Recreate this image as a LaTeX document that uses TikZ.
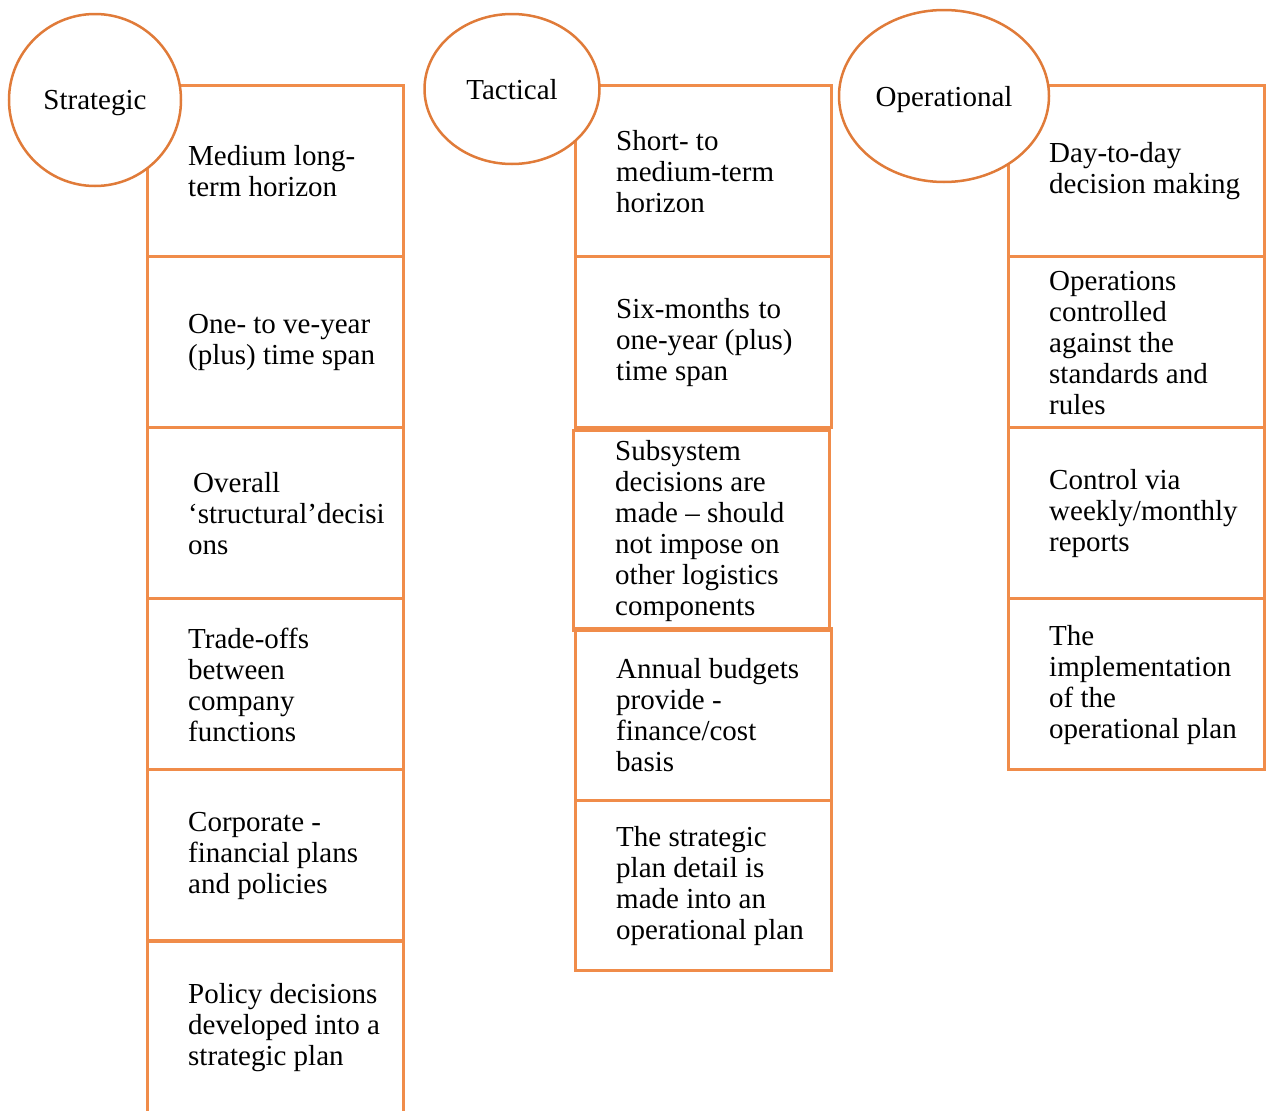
\documentclass[tikz,border=0pt]{standalone}
\usepackage{fontspec}
\setmainfont{Liberation Serif}
\usetikzlibrary{shapes.geometric}
\definecolor{boxorange}{RGB}{240,140,74}
\definecolor{ringorange}{RGB}{224,123,57}
\newcommand{\cellfont}{\fontsize{29}{31}\selectfont}
\tikzset{
	cell/.style={draw=boxorange, line width=3pt, outer sep=0pt, anchor=north west, minimum width=256pt, minimum height=171pt, inner sep=0pt},
	celltext/.style={anchor=west, align=left, inner sep=0pt, font=\cellfont},
	tier/.style={draw=ringorange, line width=2.5pt, fill=white, inner sep=0pt, text depth=0pt, font=\cellfont}
}
\begin{document}
\begin{tikzpicture}[x=1pt, y=-1pt]
	    \useasboundingbox (0,0) rectangle (1267,1111);
	    
	    \foreach \txt [count=\i] in {{\makebox[167pt][s]{Medium long-}\\term horizon},
	    	{One- to ve-year\\(plus) time span},
	    	{\hspace*{5pt}Overall\\‘structural’decisi\\ons},
	    	{Trade-offs\\between\\company\\functions},
	    	{Corporate -\\financial plans\\and policies},
	    	{Policy decisions\\developed into a\\strategic plan}}
	    {
		\node[cell] (s\i) at (147, {85+(\i-1)*171.2}) {};
		\node[celltext] (st\i) at ([xshift=41pt, yshift=-1pt]s\i.west) {\txt};
	    }
	    
	    \node[cell] (t1) at (575,85) {};
	    \node[celltext] (tt1) at ([xshift=41pt, yshift=-1pt]t1.west) {Short- to\\medium-term\\horizon};
	    \node[cell] (t2) at (575,256) {};
	    \node[celltext] (tt2) at ([xshift=41pt, yshift=-1pt]t2.west) {\makebox[165pt][s]{Six-months to}\\one-year (plus)\\time span};
	    \node[cell, minimum height=200pt] (t3) at (573,430) {};
	    \node[celltext] (tt3) at ([xshift=42pt, yshift=-1pt]t3.west) {Subsystem\\decisions are\\made – should\\not impose on\\other logistics\\components};
	    \node[cell, minimum height=172pt] (t4) at (575,628) {};
	    \node[celltext] (tt4) at ([xshift=41pt, yshift=-1pt]t4.west) {\makebox[183pt][s]{Annual budgets}\\provide -\\finance/cost\\basis};
	    \node[cell, minimum height=170pt] (t5) at (575,800) {};
	    \node[celltext] (tt5) at ([xshift=41pt, yshift=-1pt]t5.west) {The strategic\\plan detail is\\made into an\\operational plan};
	    
	    \foreach \txt [count=\i] in {{Day-to-day\\decision making},
	    	{Operations\\controlled\\against the\\standards and\\rules},
	    	{Control via\\weekly/monthly\\reports},
	    	{The\\implementation\\of the\\operational plan}}
	    {
		\node[cell] (o\i) at (1008, {85+(\i-1)*171.2}) {};
		\node[celltext] (ot\i) at ([xshift=41pt, yshift=-1pt]o\i.west) {\txt};
	    }
	    
	    \node[tier, circle, minimum size=172pt] (strategic) at (95,100) {Strategic};
	    \node[tier, ellipse, minimum width=175pt, minimum height=150pt] (tactical) at (512,89) {Tactical};
	    \node[tier, ellipse, minimum width=210pt, minimum height=172pt] (operational) at (944,96) {Operational};
	\end{tikzpicture}
\end{document}
